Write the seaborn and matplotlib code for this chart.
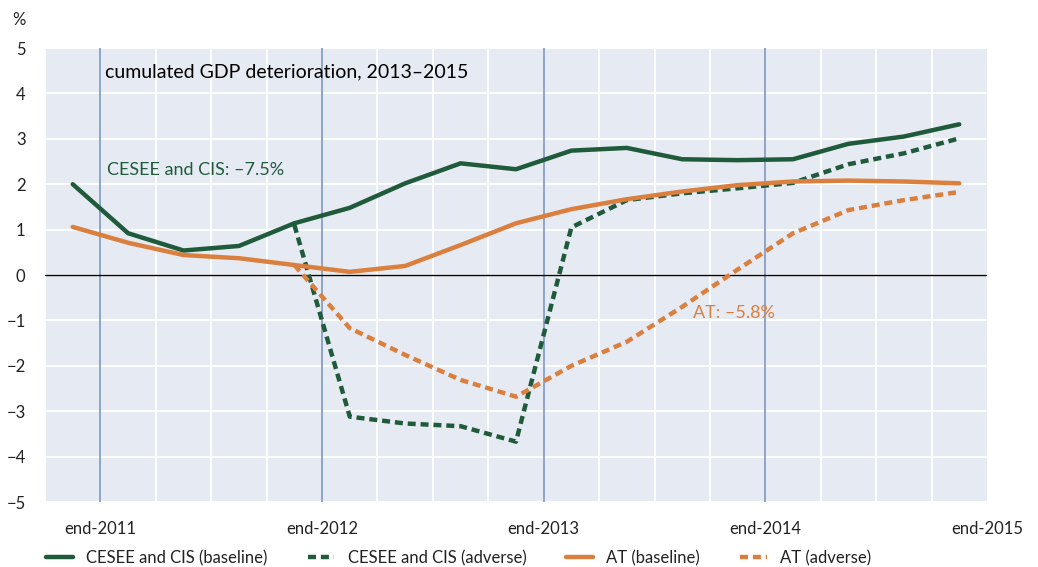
import matplotlib
matplotlib.use("Agg")
import matplotlib.pyplot as plt
from matplotlib.ticker import MultipleLocator
import seaborn as sns
import numpy as np
import pandas as pd

# quarterly observations, plotted at mid-quarter (Q4 2011 ... Q4 2015)
quarters = np.arange(17) + 0.5
cesee_baseline = [2.0, 0.92, 0.54, 0.64, 1.14, 1.48, 2.02, 2.46, 2.33, 2.74, 2.80,
                  2.55, 2.53, 2.55, 2.89, 3.05, 3.32]
cesee_adverse = [np.nan, np.nan, np.nan, np.nan, 1.1, -3.12, -3.27, -3.33, -3.67, 1.05,
                 1.65, 1.80, 1.91, 2.03, 2.44, 2.68, 3.01]
at_baseline = [1.06, 0.71, 0.44, 0.37, 0.22, 0.07, 0.20, 0.66, 1.14, 1.45, 1.67,
               1.84, 1.98, 2.06, 2.08, 2.06, 2.02]
at_adverse = [np.nan, np.nan, np.nan, np.nan, 0.22, -1.17, -1.76, -2.31, -2.68, -2.0,
              -1.47, -0.70, 0.12, 0.92, 1.43, 1.65, 1.83]

year_ticks = [1, 5, 9, 13, 17]
year_labels = ["end-2011", "end-2012", "end-2013", "end-2014", "end-2015"]

green = "#1f5a3b"
orange = "#db7f3e"

sns.set_theme(style="darkgrid", rc={"axes.facecolor": "#e6ebf3", "grid.color": "white",
                                     "grid.linewidth": 1.3})
plt.rcParams["font.family"] = ["Lato", "DejaVu Sans"]

fig = plt.figure(figsize=(10.38, 5.67), dpi=100)
ax = fig.add_axes([0.0434, 0.1146, 0.9074, 0.8007])

df = pd.DataFrame({"q": quarters, "cb": cesee_baseline, "ca": cesee_adverse,
                   "ab": at_baseline, "aa": at_adverse})
dot = (0, (1.8, 1.1))
sns.lineplot(data=df, x="q", y="cb", ax=ax, color=green, lw=3.2,
             label="CESEE and CIS (baseline)")
sns.lineplot(data=df, x="q", y="ca", ax=ax, color=green, lw=3.2, linestyle=dot,
             label="CESEE and CIS (adverse)")
sns.lineplot(data=df, x="q", y="ab", ax=ax, color=orange, lw=3.2,
             label="AT (baseline)")
sns.lineplot(data=df, x="q", y="aa", ax=ax, color=orange, lw=3.2, linestyle=dot,
             label="AT (adverse)")

ax.set_xlim(0, 17)
ax.set_ylim(-5, 5)
ax.set_yticks(range(-5, 6))
ax.set_xticks(year_ticks)
ax.set_xticklabels(year_labels)
ax.xaxis.set_minor_locator(MultipleLocator(1))
ax.grid(False, axis="x", which="major")
ax.grid(True, axis="x", which="minor", color="white", lw=1.3)
ax.set_axisbelow(True)
for yt in year_ticks[:-1]:
    ax.axvline(yt, color="#7791bd", lw=1.1, zorder=1.5)
ax.axhline(0, color="black", lw=1, zorder=1.6)
ax.tick_params(axis="both", length=0, labelsize=12, colors="#222222")
ax.tick_params(axis="y", pad=14)
ax.tick_params(axis="x", pad=14)
ax.set_xlabel("")
ax.set_ylabel("")
for s in ax.spines.values():
    s.set_visible(False)

fig.text(0.012, 0.965, "%", fontsize=12, color="#222222", va="center")
ax.text(0.064, 0.947, "cumulated GDP deterioration, 2013\u20132015", transform=ax.transAxes,
        fontsize=14, color="black", va="center")
ax.text(0.066, 0.731, "CESEE and CIS: \u20137.5%", transform=ax.transAxes,
        fontsize=13, color=green, va="center")
ax.text(0.688, 0.416, "AT: \u20135.8%", transform=ax.transAxes,
        fontsize=13, color=orange, va="center")

ax.legend_.remove()
handles, labels = ax.get_legend_handles_labels()
fig.legend(handles, labels, loc="lower left", bbox_to_anchor=(0.03, -0.025), ncol=4,
           frameon=False, fontsize=12, handlelength=1.6, columnspacing=2.4,
           labelcolor="#222222")

fig.savefig("out.png", dpi=100)
